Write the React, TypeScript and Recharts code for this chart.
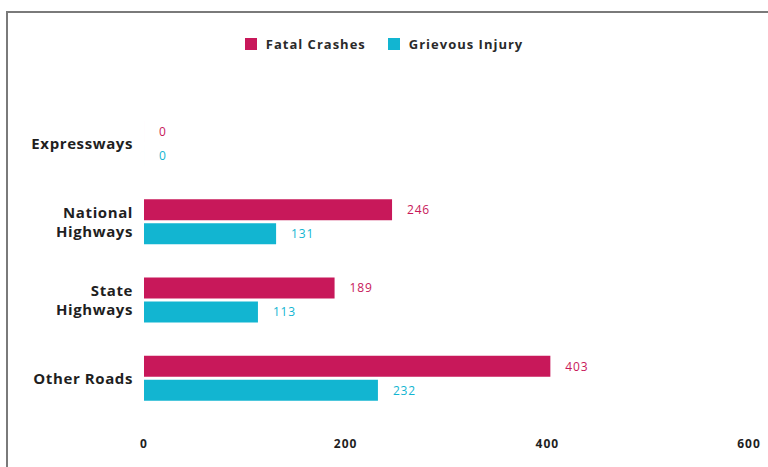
import React from "react";
import {
  Bar,
  BarChart,
  LabelList,
  Legend,
  XAxis,
  YAxis,
} from "recharts";

const roadTypes = ["Expressways", "National Highways", "State Highways", "Other Roads"];
const fatalCrashes = [0, 246, 189, 403];
const grievousInjury = [0, 131, 113, 232];
const xTicks = [0, 200, 400, 600];

const FATAL = "#C8185A";
const GRIEVOUS = "#12B5D1";
const FONT = "'Open Sans', 'DejaVu Sans', sans-serif";

const data = roadTypes.map((road, i) => ({
  road,
  fatal: fatalCrashes[i],
  grievous: grievousInjury[i],
}));

const RoadTick = (props: any) => {
  const { x, y, payload } = props;
  const label: string = payload.value;
  const lines = label.length > 12 ? label.split(" ") : [label];
  const lh = 19;
  const startY = y - ((lines.length - 1) * lh) / 2;
  return (
    <text
      x={x}
      y={startY}
      textAnchor="end"
      dominantBaseline="central"
      fill="#1f1f1f"
      fontFamily={FONT}
      fontWeight={700}
      fontSize={15}
      letterSpacing={0.6}
    >
      {lines.map((ln, i) => (
        <tspan key={i} x={x} y={startY + i * lh}>
          {ln}
        </tspan>
      ))}
    </text>
  );
};

const LegendContent = () => (
  <div
    style={{
      display: "flex",
      justifyContent: "center",
      gap: 22,
      fontFamily: FONT,
      fontWeight: 700,
      fontSize: 13,
      letterSpacing: 1,
      color: "#2a2a2a",
    }}
  >
    {[
      { name: "Fatal Crashes", color: FATAL },
      { name: "Grievous Injury", color: GRIEVOUS },
    ].map((item) => (
      <div key={item.name} style={{ display: "flex", alignItems: "center", gap: 9 }}>
        <span style={{ width: 12, height: 12, background: item.color, display: "inline-block" }} />
        <span>{item.name}</span>
      </div>
    ))}
  </div>
);

export default function App() {
  return (
    <div
      style={{
        position: "absolute",
        left: 0,
        top: 0,
        width: 768,
        height: 467,
        overflow: "hidden",
        background: "#fff",
      }}
    >
      <div
        style={{
          position: "absolute",
          left: 6,
          top: 11,
          width: 800,
          height: 500,
          border: "2px solid #7a7a7a",
        }}
      />
      <div style={{ position: "absolute", left: 0, top: 0 }}>
        <BarChart
          width={768}
          height={467}
          data={data}
          layout="vertical"
          margin={{ top: 104, right: 19, bottom: 20, left: 0 }}
          barSize={21}
          barGap={3}
        >
          <Legend
            verticalAlign="middle"
            content={<LegendContent />}
            wrapperStyle={{ top: 35, left: 0, width: 768 }}
          />
          <XAxis
            type="number"
            domain={[0, 600]}
            ticks={xTicks}
            axisLine={false}
            tickLine={false}
            height={30}
            tickMargin={16}
            tick={{ fill: "#1f1f1f", fontSize: 12, fontWeight: 700, fontFamily: FONT, letterSpacing: 1 }}
          />
          <YAxis
            type="category"
            dataKey="road"
            width={144}
            axisLine={false}
            tickLine={false}
            tickMargin={5}
            tick={<RoadTick />}
          />
          <Bar
            dataKey="fatal"
            name="Fatal Crashes"
            fill={FATAL}
            minPointSize={0.01}
            isAnimationActive={false}
          >
            <LabelList
              dataKey="fatal"
              position="right"
              offset={15}
              fill={FATAL}
              fontSize={12}
              letterSpacing={0.8}
              fontFamily={FONT}
            />
          </Bar>
          <Bar
            dataKey="grievous"
            name="Grievous Injury"
            fill={GRIEVOUS}
            minPointSize={0.01}
            isAnimationActive={false}
          >
            <LabelList
              dataKey="grievous"
              position="right"
              offset={15}
              fill={GRIEVOUS}
              fontSize={12}
              letterSpacing={0.8}
              fontFamily={FONT}
            />
          </Bar>
        </BarChart>
      </div>
    </div>
  );
}
